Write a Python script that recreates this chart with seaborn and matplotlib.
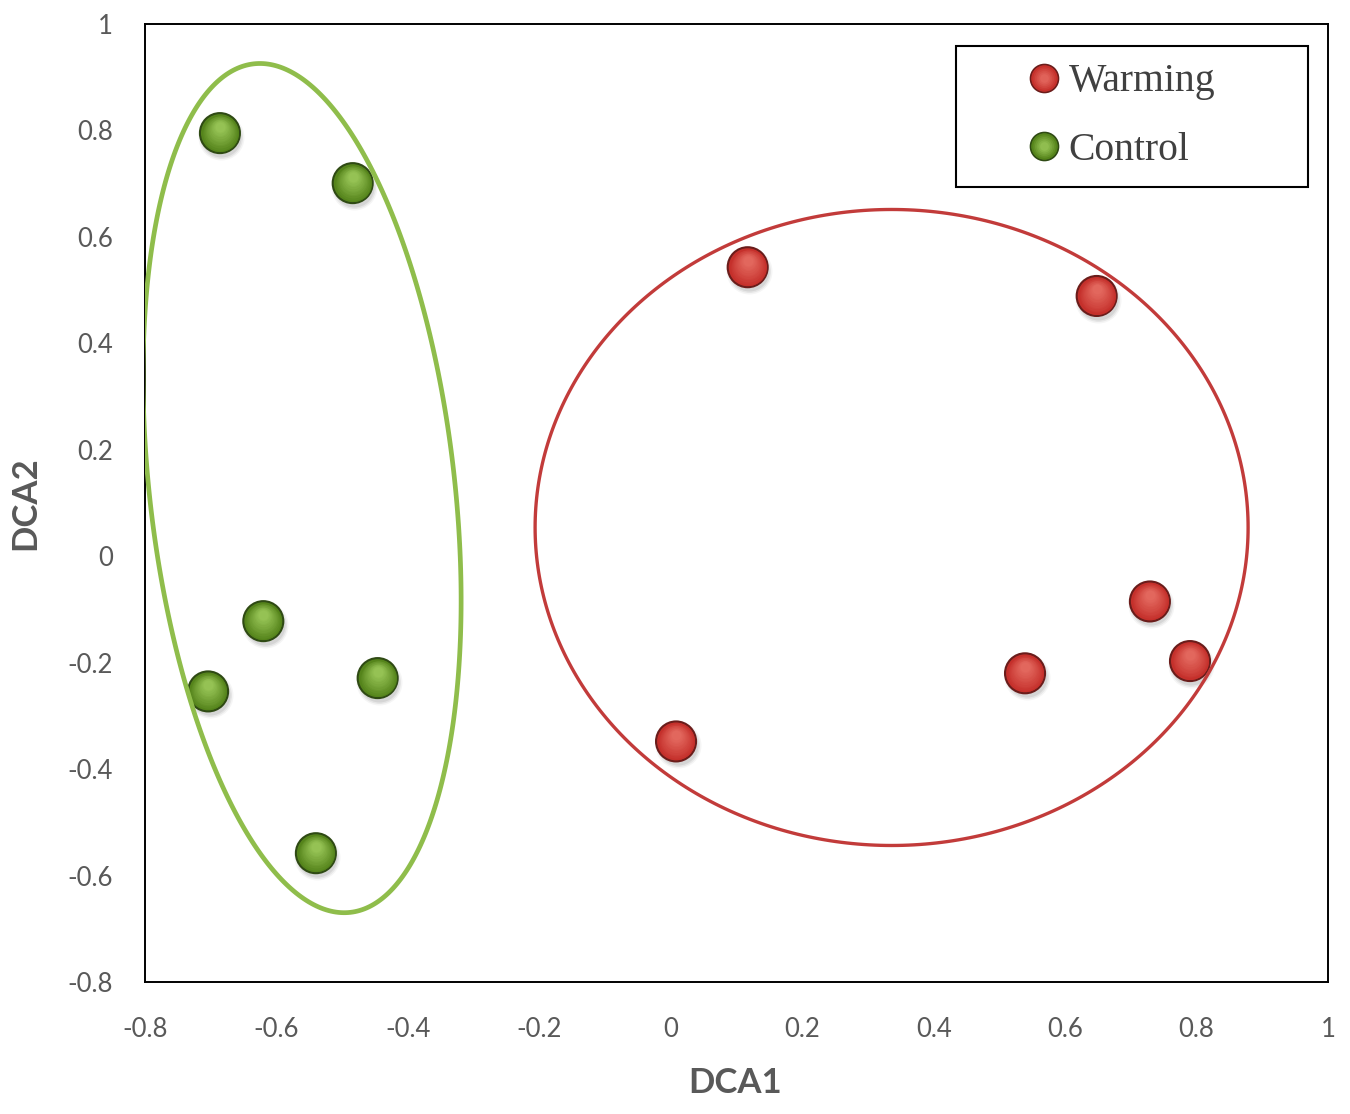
import numpy as np
import pandas as pd
import matplotlib
matplotlib.use("Agg")
import matplotlib.pyplot as plt
import seaborn as sns
from matplotlib import transforms
from matplotlib.colors import to_rgb
from matplotlib.lines import Line2D
from matplotlib.patches import Rectangle
from matplotlib.legend_handler import HandlerTuple

# ---------------- data ----------------
groups = ["Warming", "Control"]
warming_x = [0.117, 0.648, 0.729, 0.790, 0.539, 0.008]
warming_y = [0.543, 0.489, -0.085, -0.197, -0.220, -0.348]
control_x = [-0.686, -0.484, -0.620, -0.704, -0.446, -0.540]
control_y = [0.795, 0.701, -0.122, -0.254, -0.229, -0.558]

x_ticks = [-0.8, -0.6, -0.4, -0.2, 0, 0.2, 0.4, 0.6, 0.8, 1]
x_tick_labels = ["-0.8", "-0.6", "-0.4", "-0.2", "0", "0.2", "0.4", "0.6", "0.8", "1"]
y_ticks = [-0.8, -0.6, -0.4, -0.2, 0, 0.2, 0.4, 0.6, 0.8, 1]
y_tick_labels = ["-0.8", "-0.6", "-0.4", "-0.2", "0", "0.2", "0.4", "0.6", "0.8", "1"]

# group ellipses: centre (data), semi-axes (pixels), rotation (deg)
warming_ell_center = (0.336, 0.054)
warming_ell_axes = (356.5, 318.0)
warming_ell_angle = 0.0
control_ell_center = (-0.561, 0.128)
control_ell_axes = (427.0, 152.5)
control_ell_angle = 96.5

# ---------------- style ----------------
sns.set_theme(style="white")
plt.rcParams['font.family'] = ['Lato', 'DejaVu Sans']

W, H = 1350, 1114
fig = plt.figure(figsize=(W / 100, H / 100), dpi=100)
L, R, T, B = 145, 1328, 24, 982
ax = fig.add_axes([L / W, 1 - B / H, (R - L) / W, (B - T) / H])
ax.set_xlim(-0.8, 1)
ax.set_ylim(-0.8, 1)
sx = (R - L) / 1.8
sy = (B - T) / 1.8

df = pd.DataFrame({
    "DCA1": warming_x + control_x,
    "DCA2": warming_y + control_y,
    "Group": ["Warming"] * len(warming_x) + ["Control"] * len(control_x),
})

base_col = {"Warming": "#c5302b", "Control": "#55841b"}
edge_col = {"Warming": "#6a1d1b", "Control": "#2f4a14"}
light_col = {"Warming": "#e2675d", "Control": "#95c254"}

def blend(c1, c2, f):
    a, b = np.array(to_rgb(c1)), np.array(to_rgb(c2))
    return tuple(a + (b - a) * f)

N_LAYERS = 12
def layers_for(g):
    out = []
    for i in range(N_LAYERS):
        f = i / (N_LAYERS - 1)
        d = 37 - 27 * f
        out.append((d, blend(base_col[g], light_col[g], f ** 0.9), 6.5 * f))
    return out

def d2s(d):
    return (d * 72 / 100) ** 2

# soft shadow
for dd, al in [(46, 0.04), (43, 0.06), (40, 0.07)]:
    shadow_tr = transforms.offset_copy(ax.transData, fig=fig, x=1.5, y=-4, units='dots')
    ax.scatter(df["DCA1"], df["DCA2"], s=d2s(dd), color="#000000", alpha=al,
               linewidths=0, transform=shadow_tr, zorder=2)

sns.scatterplot(data=df, x="DCA1", y="DCA2", hue="Group", hue_order=groups,
                palette=base_col, s=d2s(40), edgecolor=[edge_col[g] for g in df["Group"]],
                linewidth=1.5, legend=False, ax=ax, zorder=3)

for g in groups:
    sub = df[df["Group"] == g]
    for d, c, dy in layers_for(g):
        tr = transforms.offset_copy(ax.transData, fig=fig, x=0, y=dy, units='dots')
        ax.scatter(sub["DCA1"], sub["DCA2"], s=d2s(d), color=c, linewidths=0,
                   transform=tr, zorder=4)

# ellipses (closed polygons, no seam)
def draw_ellipse(center, axes_px, angle, color, lw):
    t = np.linspace(0, 2 * np.pi, 400, endpoint=False)
    a, b = axes_px
    p = np.deg2rad(angle)
    ex = a * np.cos(t) * np.cos(p) - b * np.sin(t) * np.sin(p)
    ey = a * np.cos(t) * np.sin(p) + b * np.sin(t) * np.cos(p)
    patches = ax.fill(center[0] + ex / sx, center[1] + ey / sy, fill=False,
                      edgecolor=color, lw=lw, zorder=6)
    for pch in patches:
        pch.set_joinstyle('round')

draw_ellipse(warming_ell_center, warming_ell_axes, warming_ell_angle, "#c23b3a", 2.4)
draw_ellipse(control_ell_center, control_ell_axes, control_ell_angle, "#8fbd4b", 3.4)

# axes styling
ax.set_xticks(x_ticks)
ax.set_xticklabels(x_tick_labels)
ax.set_yticks(y_ticks)
ax.set_yticklabels(y_tick_labels)
ax.tick_params(axis='both', length=0, labelsize=18.5, labelcolor="#595959")
ax.tick_params(axis='x', pad=25)
ax.tick_params(axis='y', pad=23)
for sp in ax.spines.values():
    sp.set_visible(True)
    sp.set_color("black")
    sp.set_linewidth(1.4)
ax.grid(False)

ax.set_xlabel("DCA1", fontsize=25, fontweight='bold', color="#595959")
ax.set_ylabel("DCA2", fontsize=25, fontweight='bold', color="#595959")
ax.xaxis.set_label_coords((735 - L) / (R - L), (B - 1083) / (B - T))
ax.xaxis.label.set_va('center')
ax.yaxis.set_label_coords((25 - L) / (R - L), 0.5)
ax.yaxis.label.set_va('center')

# legend
handles = []
for g in groups:
    layers = [Line2D([], [], ls='none', marker='o', markersize=28 * 0.72,
                     markerfacecolor=base_col[g], markeredgecolor=edge_col[g], markeredgewidth=1.2)]
    for d, c, dy in layers_for(g)[::2]:
        layers.append(Line2D([], [], ls='none', marker='o', markersize=d * 0.7 * 0.72,
                             markerfacecolor=c, markeredgewidth=0))
    handles.append(tuple(layers))

leg_fs = 28.5
leg_px = leg_fs * 100 / 72
leg = ax.legend(handles, groups, handler_map={tuple: HandlerTuple(ndivide=1, pad=0)},
                loc='center left',
                bbox_to_anchor=((1044 - leg_px / 2 - L) / (R - L), (B - 116) / (B - T)),
                frameon=False, borderpad=0, borderaxespad=0, handlelength=1.0,
                handletextpad=0.12, labelspacing=0.79,
                prop={'family': 'Liberation Serif', 'size': leg_fs})
for txt in leg.get_texts():
    txt.set_color("#404040")
leg.set_zorder(10)

ax.add_patch(Rectangle(((956 - L) / (R - L), (B - 187) / (B - T)),
                       (1308 - 956) / (R - L), (187 - 46) / (B - T),
                       transform=ax.transAxes, fill=False, edgecolor="black",
                       linewidth=1.5, zorder=9, clip_on=False))

fig.savefig("out.png", dpi=100, facecolor="white")
